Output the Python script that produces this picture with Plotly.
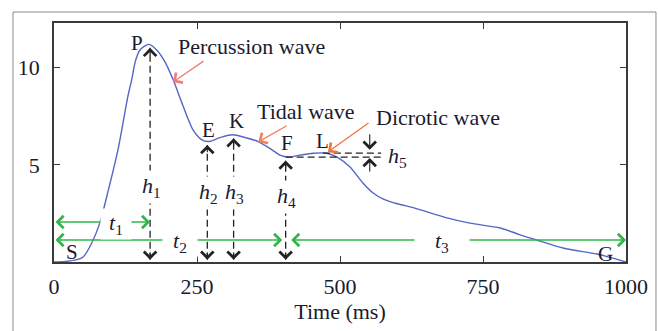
import plotly.graph_objects as go

# ---------------- data ----------------
time_ms = [0, 20, 40, 51, 66, 80, 95, 112, 129, 136, 142, 150, 166, 180, 194, 208,
           226, 243, 258, 270, 290, 312, 335, 357, 380, 395, 410, 430, 453, 477,
           495, 517, 540, 558, 575, 600, 628, 687, 727, 780, 815, 844, 890, 949, 977, 1000]
amplitude = [0.0, 0.03, 0.12, 0.26, 0.98, 2.0, 3.7, 5.8, 8.5, 9.4, 10.3, 10.9, 11.2,
             10.9, 10.3, 9.4, 8.0, 6.8, 6.3, 6.2, 6.4, 6.55, 6.4, 6.2, 5.8, 5.5, 5.4,
             5.5, 5.6, 5.6, 5.4, 4.9, 4.07, 3.55, 3.25, 3.0, 2.8, 2.27, 2.0, 1.75, 1.4,
             1.13, 0.72, 0.41, 0.2, 0.0]

point_names = ["S", "P", "E", "K", "F", "L", "G"]
point_t = [0, 168, 268, 314, 405, 470, 1000]
point_v = [0.0, 11.2, 6.2, 6.55, 5.4, 5.6, 0.0]

height_names = ["h1", "h2", "h3", "h4"]
height_points = ["P", "E", "K", "F"]

interval_names = ["t1", "t2", "t3"]
interval_start = ["S", "S", "F"]
interval_end = ["P", "F", "G"]

wave_names = ["Percussion wave", "Tidal wave", "Dicrotic wave"]
wave_t = [208, 357, 479]
wave_v = [9.26, 6.18, 5.66]

x_ticks = [0, 250, 500, 750, 1000]
y_ticks = [5, 10]
x_title = "Time (ms)"

# ---------------- style ----------------
FONT = "Liberation Serif"
TXT = "#1a1a30"
GREEN = "#2fb54a"
BLACK = "#222222"
DASH = "7px,4px"
FS = 22
pt = dict(zip(point_names, zip(point_t, point_v)))

fig = go.Figure()
fig.add_trace(go.Scatter(x=time_ms, y=amplitude, mode="lines",
                         line=dict(color="#5566c4", width=1.4, shape="spline", smoothing=0.8),
                         hoverinfo="skip", showlegend=False))

shapes = []
ann = []

# outer frame
shapes.append(dict(type="rect", xref="paper", yref="paper", x0=-0.0717, x1=1.0524,
                   y0=-0.5, y1=1.046, line=dict(color="#8a8a8a", width=1)))

def head(x, y, tx, ty, color, width, size):
    ann.append(dict(x=x, y=y, ax=tx, ay=ty, axref="x", ayref="y", xref="x", yref="y",
                    text="", showarrow=True, arrowhead=4, arrowsize=size,
                    arrowwidth=width, arrowcolor=color, standoff=0))

# vertical height lines h1..h4
h_label_v = [3.86, 3.55, 3.55, 3.35]
for name, p, lv in zip(height_names, height_points, h_label_v):
    t, v = pt[p]
    top = v - 0.18
    shapes.append(dict(type="line", x0=t, x1=t, y0=0.12, y1=top,
                       line=dict(color=BLACK, width=1.3, dash=DASH)))
    head(t, top, t, top - 0.45, BLACK, 1.1, 2.2)
    head(t, 0.12, t, 0.57, BLACK, 1.1, 2.2)
    ann.append(dict(x=t, y=lv, text="<i>h</i><sub>%s</sub>" % name[1:], showarrow=False,
                    font=dict(family=FONT, size=FS, color=TXT), bgcolor="white",
                    xshift=1, height=30))

# h5 (difference between L and F)
tL, vL = pt["L"]
tF, vF = pt["F"]
h5_t = 552
shapes.append(dict(type="line", x0=tL, x1=572, y0=vL, y1=vL,
                   line=dict(color=BLACK, width=1.3, dash=DASH)))
shapes.append(dict(type="line", x0=tF, x1=572, y0=vF, y1=vF,
                   line=dict(color=BLACK, width=1.3, dash=DASH)))
head(h5_t, vL + 0.18, h5_t, vL + 1.05, BLACK, 1.1, 2.2)
head(h5_t, vF - 0.05, h5_t, vF - 0.82, BLACK, 1.1, 2.2)
ann.append(dict(x=601, y=vF, text="<i>h</i><sub>5</sub>", showarrow=False,
                font=dict(family=FONT, size=FS, color=TXT)))

# time intervals t1..t3
t_y = [2.06, 1.13, 1.13]
t_label_x = [108, 220, 678]
t_label_w = [28, 32, 52]
t_end_trim = [0, 6, 0]
t_start_trim = [0, 0, 7]
for name, s, e, y, et, st in zip(interval_names, interval_start, interval_end,
                                 t_y, t_end_trim, t_start_trim):
    x0 = pt[s][0] + st
    x1 = pt[e][0] - et
    ann.append(dict(x=x1, y=y, ax=x0, ay=y, axref="x", ayref="y", xref="x", yref="y",
                    text="", showarrow=True, arrowhead=4, startarrowhead=4,
                    arrowside="end+start", arrowsize=1.6, startarrowsize=1.6,
                    arrowwidth=1.5, arrowcolor=GREEN, standoff=0, startstandoff=0))
for name, y, lx, w in zip(interval_names, t_y, t_label_x, t_label_w):
    ann.append(dict(x=lx, y=y, text="<i>t</i><sub>%s</sub>" % name[1:], showarrow=False,
                    font=dict(family=FONT, size=FS, color=TXT), bgcolor="white",
                    width=w, yshift=-2))

# wave annotations
wave_text_pos = [(345, 11.07), (441, 7.77), (672, 7.46)]
wave_tail = [(32, -22), (30, -17), (42, -30)]
wave_col = ["#f07c7c", "#f4805c", "#f2743e"]
for name, t, v, (tx, ty), (ax, ay), c in zip(wave_names, wave_t, wave_v,
                                               wave_text_pos, wave_tail, wave_col):
    ann.append(dict(x=t, y=v, ax=ax, ay=ay, text="", showarrow=True, arrowhead=4,
                    arrowsize=1.8, arrowwidth=1.3, arrowcolor=c, standoff=0))
    ann.append(dict(x=tx, y=ty, text=name, showarrow=False,
                    font=dict(family=FONT, size=FS, color=TXT)))

# point labels
label_shift = {"S": (18, 10), "P": (-13, 1), "E": (1, 12), "K": (3, 14),
               "F": (1, 14), "L": (0, 12), "G": (-21, 8)}
for n in point_names:
    t, v = pt[n]
    dx, dy = label_shift[n]
    ann.append(dict(x=t, y=v, text=n, showarrow=False, xshift=dx, yshift=dy,
                    font=dict(family=FONT, size=21, color=TXT)))

axis_common = dict(showline=True, linecolor="#3a3a3a", linewidth=1.8, mirror="ticks",
                   ticks="inside", ticklen=6, tickwidth=1.3, tickcolor="#3a3a3a",
                   showgrid=False, zeroline=False,
                   tickfont=dict(family=FONT, size=FS, color=TXT))

fig.update_layout(
    width=659, height=331, autosize=False,
    margin=dict(l=54, r=33, t=23, b=69),
    paper_bgcolor="white", plot_bgcolor="white",
    shapes=shapes, annotations=ann, showlegend=False,
    xaxis=dict(range=[0, 1000], tickvals=x_ticks, ticklabelstandoff=4,
               title=dict(text=x_title, font=dict(family=FONT, size=FS, color=TXT), standoff=2),
               **axis_common),
    yaxis=dict(range=[0, 12.3], tickvals=y_ticks, ticklabelstandoff=8, **axis_common),
)

fig.write_html("out.html")
